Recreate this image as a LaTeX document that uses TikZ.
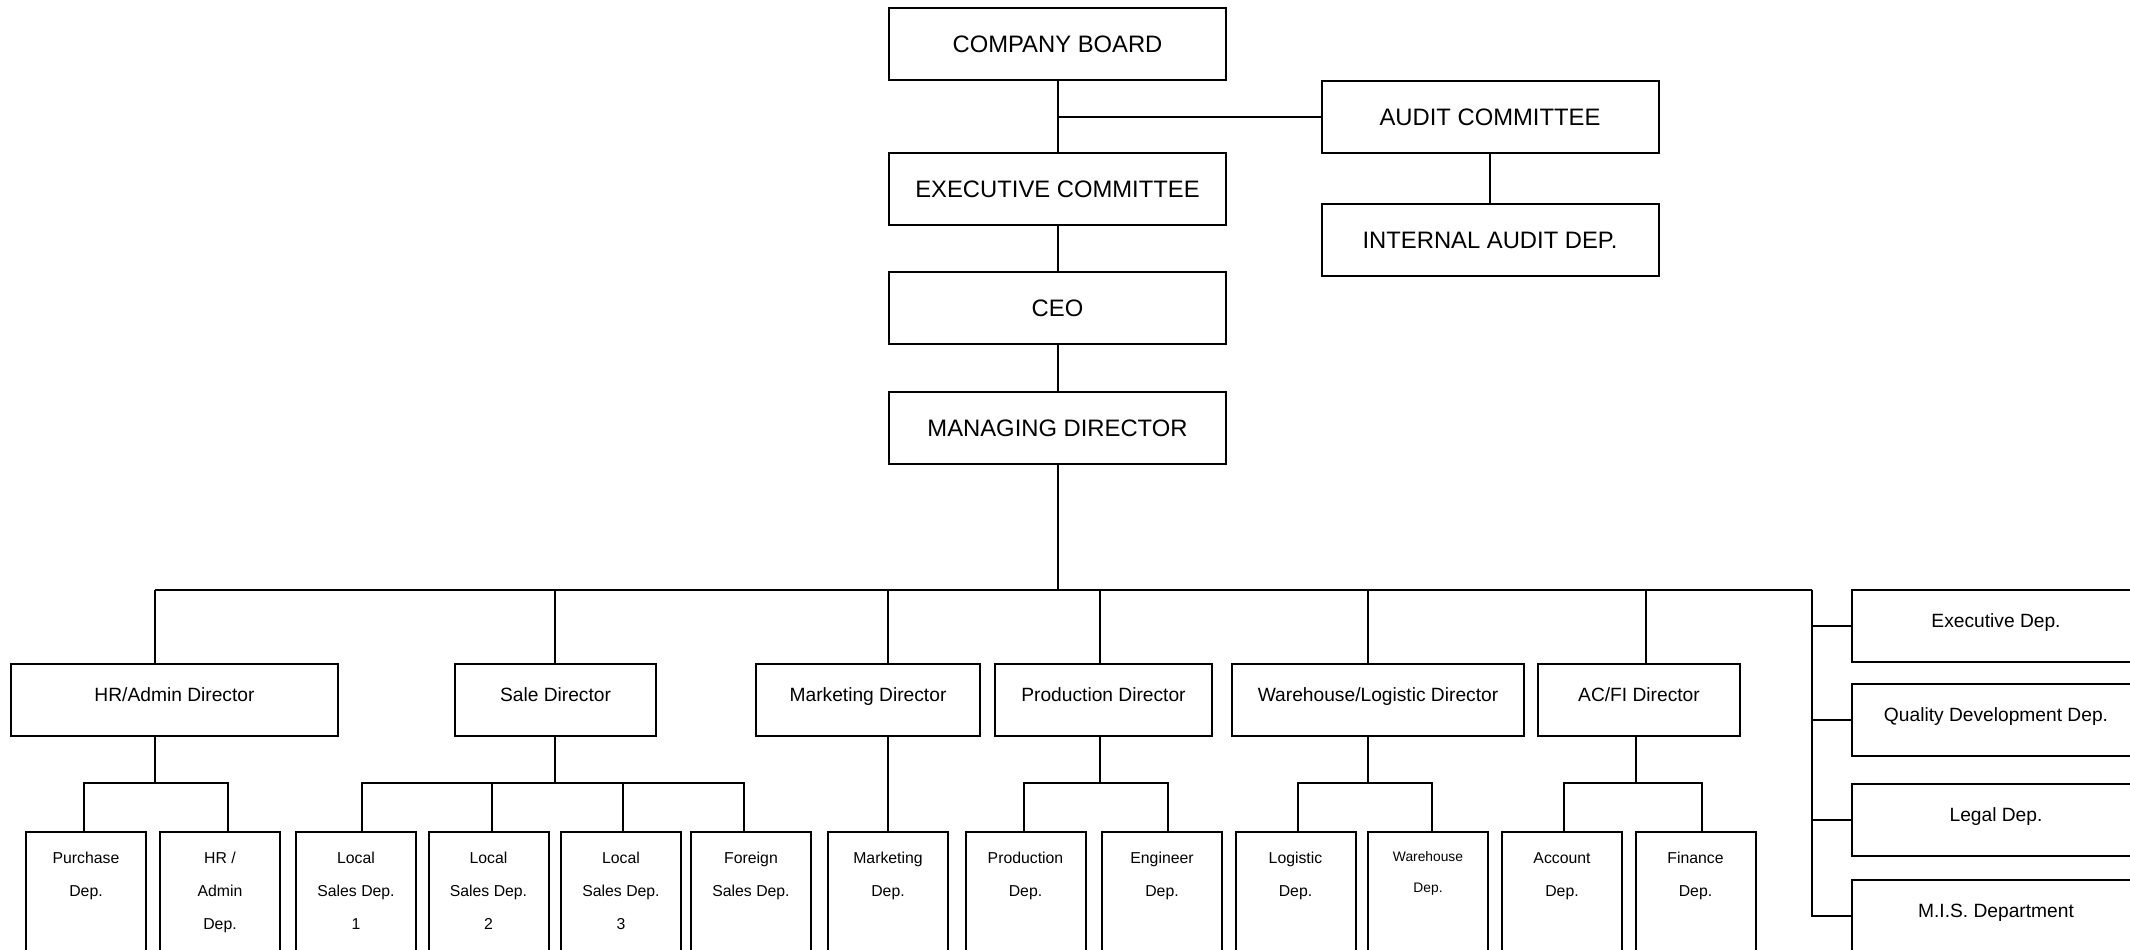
\documentclass[tikz,border=0pt]{standalone}
\usepackage{fontspec}
\setmainfont{Liberation Sans}
\usetikzlibrary{positioning}
\tikzstyle{line} = [line width=1pt]

\begin{document}
\begin{tikzpicture}[x=0.5pt,y=-0.5pt,every node/.style={shape=rectangle,draw,line width=1pt,inner sep=0pt,outer sep=0pt},
    top/.style={minimum width=168.5pt,minimum height=36pt,font=\fontsize{11.9}{14}\selectfont},
    dir/.style={minimum height=36pt,text height=5pt,text depth=3.2pt,font=\fontsize{9.6}{12}\selectfont},
    side/.style={minimum width=144pt,minimum height=36pt,text height=4pt,text depth=2.1pt,font=\fontsize{9.6}{12}\selectfont},
    dep/.style={anchor=north,inner ysep=4pt,font=\fontsize{7.9}{16.6}\selectfont,
        execute at begin node={\begin{minipage}[t][75pt][t]{60pt}\centering\strut},
        execute at end node={\end{minipage}}}]
    \useasboundingbox (0,0) rectangle (2130,949);
    % create the nodes
    \node (board) [top] at (1057.5,44) {COMPANY BOARD};
    \node (exec) [top, below=36.5pt of board] {EXECUTIVE COMMITTEE};
    \node (ceo) [top, below=23.5pt of exec] {CEO};
    \node (mgd) [top, below=24pt of ceo] {MANAGING DIRECTOR};
    \node (audit) [top] at (1490,117) {AUDIT COMMITTEE};
    \node (iad) [top, below=25.5pt of audit] {INTERNAL AUDIT DEP.};
    \node (hrdir) [dir, minimum width=163.5pt] at (174.5,700) {HR/Admin Director};
    \node (saledir) [dir, minimum width=100.5pt] at (555.5,700) {Sale Director};
    \node (mktdir) [dir, minimum width=112pt] at (868,700) {Marketing Director};
    \node (proddir) [dir, minimum width=108.5pt] at (1103.5,700) {Production Director};
    \node (whdir) [dir, minimum width=146pt] at (1378,700) {Warehouse/Logistic Director};
    \node (acdir) [dir, minimum width=101pt] at (1639,700) {AC/FI Director};
    \node (execd) [side, anchor=west] at (1852,626) {Executive Dep.};
    \node (quald) [side, anchor=west] at (1852,720) {Quality Development Dep.};
    \node (legald) [side, anchor=west] at (1852,820) {Legal Dep.};
    \node (misd) [side, anchor=north west] at (1852,880) {M.I.S. Department};
    \node (purch) [dep] at (86,832) {Purchase\\Dep.};
    \node (hrad) [dep] at (220,832) {HR /\\Admin\\Dep.};
    \node (loc1) [dep] at (356,832) {Local\\Sales Dep.\\1};
    \node (loc2) [dep] at (488.5,832) {Local\\Sales Dep.\\2};
    \node (loc3) [dep] at (621,832) {Local\\Sales Dep.\\3};
    \node (foreign) [dep] at (751,832) {Foreign\\Sales Dep.};
    \node (mktdep) [dep] at (888,832) {Marketing\\Dep.};
    \node (proddep) [dep] at (1025.5,832) {Production\\Dep.};
    \node (engdep) [dep] at (1162,832) {Engineer\\Dep.};
    \node (logdep) [dep] at (1295.5,832) {Logistic\\Dep.};
    \node (whdep) [dep, font=\fontsize{6.9}{15.5}\selectfont] at (1428,832) {Warehouse\\Dep.};
    \node (accdep) [dep] at (1562,832) {Account\\Dep.};
    \node (findep) [dep] at (1695.5,832) {Finance\\Dep.};
    \coordinate (busL) at (155,590);
    \coordinate (busR) at (1812,590);
    \coordinate (hrbus) at (155,783);
    \coordinate (salebus) at (555,783);
    \coordinate (prodbus) at (1100,783);
    \coordinate (whbus) at (1368,783);
    \coordinate (acbus) at (1636,783);
    \coordinate (acdrop) at (1646,590);
    % connect the nodes
    \draw[line] (board) -- (exec);
    \draw[line] (audit.west) -- (audit.west -| board);
    \draw[line] (audit) -- (iad);
    \draw[line] (exec) -- (ceo);
    \draw[line] (ceo) -- (mgd);
    \draw[line] (mgd) -- (mgd |- busL);
    \draw[line] (busL) -- (busR);
    \draw[line] (hrbus |- busL) -- (hrbus |- hrdir.north);
    \draw[line] (hrbus |- hrdir.south) -- (hrbus);
    \draw[line] (salebus |- busL) -- (salebus |- saledir.north);
    \draw[line] (salebus |- saledir.south) -- (salebus);
    \draw[line] (mktdep.north |- busL) -- (mktdep.north |- mktdir.north);
    \draw[line] (mktdep.north |- mktdir.south) -- (mktdep);
    \draw[line] (prodbus |- busL) -- (prodbus |- proddir.north);
    \draw[line] (prodbus |- proddir.south) -- (prodbus);
    \draw[line] (whbus |- busL) -- (whbus |- whdir.north);
    \draw[line] (whbus |- whdir.south) -- (whbus);
    \draw[line] (acdrop) -- (acdrop |- acdir.north);
    \draw[line] (acbus |- acdir.south) -- (acbus);
    \draw[line] ([xshift=-1pt]purch.north) |- (hrbus) -| ([xshift=3.75pt]hrad.north);
    \draw[line] ([xshift=3pt]loc1.north) |- (salebus) -| ([xshift=-3.5pt]foreign.north);
    \draw[line] ([xshift=1.75pt]loc2.north) -- ([xshift=1.75pt]loc2.north |- salebus);
    \draw[line] ([xshift=1pt]loc3.north) -- ([xshift=1pt]loc3.north |- salebus);
    \draw[line] ([xshift=-1pt]proddep.north) |- (prodbus) -| ([xshift=3pt]engdep.north);
    \draw[line] ([xshift=1.25pt]logdep.north) |- (whbus) -| ([xshift=2pt]whdep.north);
    \draw[line] ([xshift=1pt]accdep.north) |- (acbus) -| ([xshift=3.25pt]findep.north);
    \draw[line] (busR) |- (misd);
    \draw[line] (execd) -- (execd -| busR);
    \draw[line] (quald) -- (quald -| busR);
    \draw[line] (legald) -- (legald -| busR);
\end{tikzpicture}
\end{document}
